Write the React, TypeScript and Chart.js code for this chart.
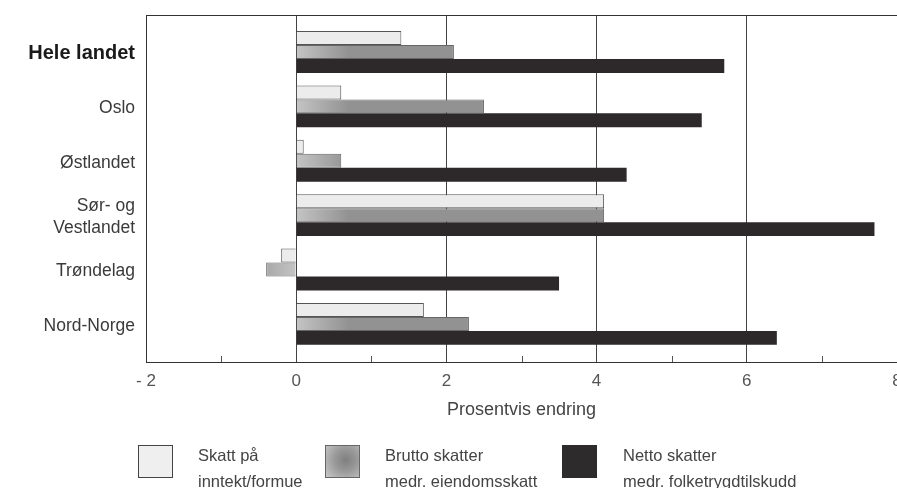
import React, { useEffect, useRef } from 'react';
import { Chart, registerables } from 'chart.js';

Chart.register(...registerables);

const categories: (string | string[])[] = [
  'Hele landet',
  'Oslo',
  'Østlandet',
  ['Sør- og', 'Vestlandet'],
  'Trøndelag',
  'Nord-Norge',
];
const categoryPositions = [0, 1, 2, 3, 4, 5];
const skattInntektFormue = [1.4, 0.6, 0.1, 4.1, -0.2, 1.7];
const bruttoSkatter = [2.1, 2.5, 0.6, 4.1, -0.4, 2.3];
const nettoSkatter = [5.7, 5.4, 4.4, 7.7, 3.5, 6.4];
const xTickValues = [-2, -1, 0, 1, 2, 3, 4, 5, 6, 7, 8];
const seriesLabels = [
  ['Skatt på', 'inntekt/formue'],
  ['Brutto skatter', 'medr. eiendomsskatt'],
  ['Netto skatter', 'medr. folketrygdtilskudd'],
];
const axisTitle = 'Prosentvis endring';

const FONT = '"Liberation Sans", Arial, Helvetica, sans-serif';

const toPoints = (vals: number[]) =>
  categoryPositions.map((p, i) => ({ x: vals[i], y: p }));

const framePlugin = {
  id: 'frame',
  beforeDatasetsDraw(chart: any) {
    const { ctx, chartArea } = chart;
    const xs = chart.scales.x;
    ctx.save();
    ctx.strokeStyle = '#333';
    ctx.lineWidth = 1;
    ctx.strokeRect(
      Math.round(chartArea.left) + 0.5,
      Math.round(chartArea.top) + 0.5,
      Math.round(chartArea.right - chartArea.left),
      Math.round(chartArea.bottom - chartArea.top)
    );
    ctx.strokeStyle = '#555';
    xTickValues
      .filter((v) => Math.abs(v) % 2 === 1)
      .forEach((v) => {
        const px = Math.round(xs.getPixelForValue(v)) + 0.5;
        ctx.beginPath();
        ctx.moveTo(px, chartArea.bottom);
        ctx.lineTo(px, chartArea.bottom - 6);
        ctx.stroke();
      });
    ctx.restore();
  },
};

const mediumFill = (c: any) => {
  const chart = c.chart;
  const xs = chart.scales && chart.scales.x;
  if (!xs || !chart.chartArea) return '#999999';
  const xa = xs.getPixelForValue(-0.7);
  const xb = xs.getPixelForValue(0.7);
  const g = chart.ctx.createLinearGradient(xa, 0, xb, 0);
  g.addColorStop(0, '#959595');
  g.addColorStop(0.5, '#c4c4c4');
  g.addColorStop(1, '#929292');
  return g;
};

export default function App() {
  const canvasRef = useRef<HTMLCanvasElement | null>(null);

  useEffect(() => {
    const canvas = canvasRef.current;
    if (!canvas) return;
    const chart = new Chart(canvas, {
      type: 'bar',
      data: {
        datasets: [
          {
            label: seriesLabels[0].join(' '),
            data: toPoints(skattInntektFormue) as any,
            backgroundColor: '#ececec',
            borderColor: '#555',
            borderWidth: 1,
          },
          {
            label: seriesLabels[1].join(' '),
            data: toPoints(bruttoSkatter) as any,
            backgroundColor: mediumFill,
            borderColor: '#666',
            borderWidth: 1,
          },
          {
            label: seriesLabels[2].join(' '),
            data: toPoints(nettoSkatter) as any,
            backgroundColor: '#2d292a',
            borderColor: '#2d292a',
            borderWidth: 0,
          },
        ],
      },
      options: {
        indexAxis: 'y',
        responsive: false,
        animation: false,
        devicePixelRatio: 1,
        layout: { padding: { top: 15, right: 15, left: 0, bottom: 0 } },
        datasets: {
          bar: { barPercentage: 1, categoryPercentage: 0.77 },
        },
        plugins: {
          legend: { display: false },
          tooltip: { enabled: false },
        },
        scales: {
          y: {
            type: 'linear',
            offset: false,
            reverse: true,
            min: -0.68,
            max: 5.7,
            afterBuildTicks: (s: any) => {
              s.ticks = categoryPositions.map((v) => ({ value: v }));
            },
            afterFit: (s: any) => {
              s.width = 146;
              s.paddingTop = 0;
              s.paddingBottom = 0;
            },
            grid: { display: false, drawTicks: false, offset: false },
            border: { display: false },
            ticks: {
              padding: 11,
              labelOffset: 2,
              callback: (v: any) => categories[Number(v)] as any,
              color: (c: any) => (c.index === 0 ? '#1a1a1a' : '#3a3a3a'),
              font: (c: any) =>
                c.index === 0
                  ? { family: FONT, size: 20, weight: 'bold', lineHeight: 1.2 }
                  : { family: FONT, size: 17.5, weight: 'normal', lineHeight: 1.3 },
            },
          },
          x: {
            type: 'linear',
            min: -2,
            max: 8,
            afterBuildTicks: (s: any) => {
              s.ticks = xTickValues.map((v) => ({ value: v }));
            },
            afterFit: (s: any) => {
              s.height = 126;
              s.paddingLeft = 0;
              s.paddingRight = 0;
            },
            grid: {
              drawTicks: false,
              lineWidth: 1,
              color: (c: any) => {
                const v = c.tick ? c.tick.value : NaN;
                return v % 2 === 0 && v !== -2 && v !== 8 ? '#444' : 'rgba(0,0,0,0)';
              },
            },
            border: { display: false },
            ticks: {
              padding: 9,
              color: '#555',
              font: { family: FONT, size: 17 },
              autoSkip: false,
              maxRotation: 0,
              callback: (v: any) => {
                const n = Number(v);
                if (Math.abs(n) % 2 !== 0) return '';
                return n < 0 ? '- ' + Math.abs(n) : String(n);
              },
            },
            title: {
              display: true,
              text: axisTitle,
              color: '#444',
              font: { family: FONT, size: 18 },
              padding: { top: 0, bottom: 67 },
            },
          },
        },
      },
      plugins: [framePlugin],
    } as any);
    return () => chart.destroy();
  }, []);

  const boxStyles: React.CSSProperties[] = [
    { background: '#efefef', border: '1px solid #444' },
    {
      background: 'radial-gradient(circle at 60% 45%, #7f7f7f 0%, #9a9a9a 45%, #c9c9c9 100%)',
      border: '1px solid #666',
    },
    { background: '#2e2b2c', border: '1px solid #2e2b2c' },
  ];
  const boxLeft = [138, 325, 562];
  const textLeft = [198, 385, 623];

  return (
    <div
      style={{
        position: 'absolute',
        left: 0,
        top: 0,
        width: 897,
        height: 488,
        overflow: 'hidden',
        background: '#fff',
        fontFamily: FONT,
      }}
    >
      <canvas
        ref={canvasRef}
        width={912}
        height={488}
        style={{ position: 'absolute', left: 0, top: 0, width: 912, height: 488 }}
      />
      {seriesLabels.map((lines, i) => (
        <React.Fragment key={i}>
          <div
            style={{
              position: 'absolute',
              left: boxLeft[i],
              top: 445,
              width: 33,
              height: 31,
              ...boxStyles[i],
            }}
          />
          <div
            style={{
              position: 'absolute',
              left: textLeft[i],
              top: 442,
              fontSize: 16.5,
              lineHeight: '26px',
              color: '#444',
              whiteSpace: 'nowrap',
            }}
          >
            {lines[0]}
            <br />
            {lines[1]}
          </div>
        </React.Fragment>
      ))}
    </div>
  );
}
